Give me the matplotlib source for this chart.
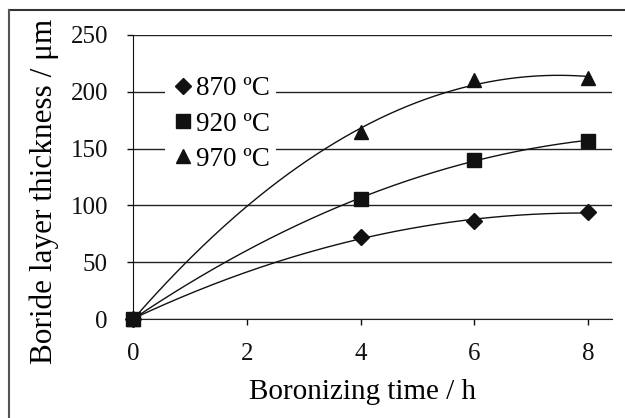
import numpy as np
import matplotlib
matplotlib.use("Agg")
import matplotlib.pyplot as plt
from matplotlib.lines import Line2D

plt.rcParams['font.family'] = ['Liberation Serif', 'DejaVu Serif']

time_h = [0, 4, 6, 8]
t870 = [0, 72, 86, 94]
t920 = [0, 106, 140, 157]
t970 = [0, 165, 210, 212]
labels = ['870 ºC', '920 ºC', '970 ºC']
markers = ['D', 's', '^']
msizes = [8.5, 9.5, 10]
xticks = [0, 2, 4, 6, 8]
yticks = [0, 50, 100, 150, 200, 250]

fig = plt.figure(figsize=(6.25, 4.18), dpi=100)
ax = fig.add_axes([133/625, 1-319/418, (612-133)/625, (319-35)/418])

xs = np.linspace(0, 8, 200)
for ys, lab, m, ms in zip([t870, t920, t970], labels, markers, msizes):
    c = np.polyfit(time_h, ys, 2)
    ax.plot(xs, np.polyval(c, xs), color='#111111', lw=1.0, zorder=3)
    ax.plot(time_h, ys, linestyle='none', marker=m, ms=ms, color='#111111',
            label=lab, zorder=4, clip_on=False)

ax.set_xlim(0, 8.42)
ax.set_ylim(0, 250)
ax.set_xticks(xticks)
ax.set_yticks(yticks)
ax.yaxis.grid(True, color='#222222', lw=1.0)
ax.set_axisbelow(True)
for s in ['top', 'right']:
    ax.spines[s].set_visible(False)
ax.spines['left'].set_color('#111111')
ax.spines['bottom'].set_color('#222222')
ax.tick_params(direction='out', length=4.5, width=1, labelsize=18, colors='#111111')
ax.tick_params(axis='x', pad=12.5)
ax.tick_params(axis='y', pad=13.5)
ax.set_xlabel('Boronizing time / h', fontsize=21)
ax.set_ylabel('Boride layer thickness / μm', fontsize=22.5)
ax.xaxis.set_label_coords(0.479, -0.211)
ax.yaxis.set_label_coords(-0.1545, 0.451)

leg = ax.legend(loc='upper left', bbox_to_anchor=(0.0668, 0.873), frameon=True,
                fontsize=19.5, handlelength=0.9, handletextpad=0.05, labelspacing=0.37,
                borderpad=0.2, borderaxespad=0)
leg.get_frame().set_facecolor('white')
leg.get_frame().set_edgecolor('none')
leg.get_frame().set_alpha(1)

fig.add_artist(Line2D([9/625, 1], [1-10/418, 1-10/418], color='#333333', lw=1.5, transform=fig.transFigure))
fig.add_artist(Line2D([9/625, 9/625], [0, 1-10/418], color='#555555', lw=1.5, transform=fig.transFigure))

fig.savefig('out.png', dpi=100)
